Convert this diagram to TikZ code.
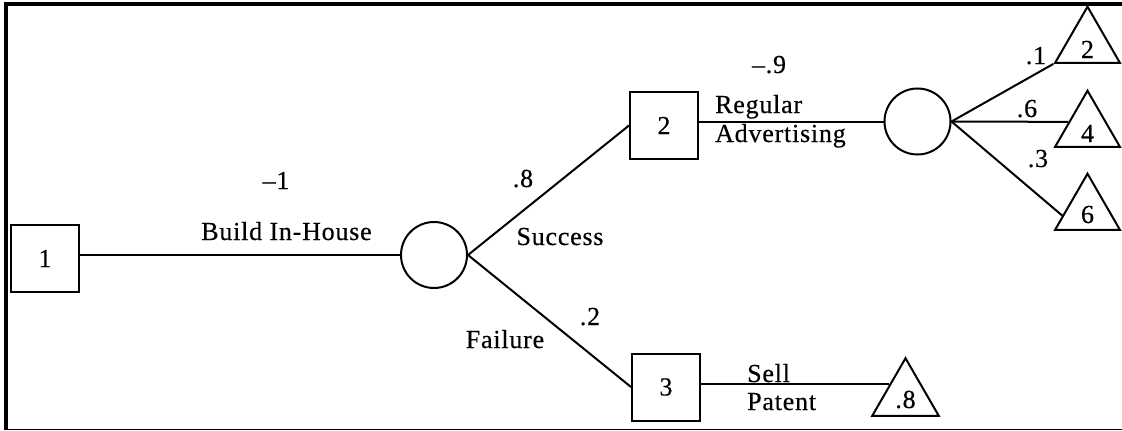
\documentclass[tikz,border=0pt]{standalone}
\usepackage{fontspec}
\setmainfont{Liberation Serif}[LetterSpace=3, FakeBold=0.4]
\usetikzlibrary{shapes.geometric,calc}
\begin{document}
\begin{tikzpicture}[x=1pt,y=-1pt,
  every node/.style={font=\fontsize{26}{29}\selectfont},
  decision/.style={draw, line width=2pt, minimum width=68pt, minimum height=67pt, inner sep=0pt},
  chance/.style={circle, draw, line width=2pt, minimum size=66pt, inner sep=0pt},
  payoff/.style={regular polygon, regular polygon sides=3, draw, line width=2pt,
                 minimum size=75pt, inner sep=0pt},
  branch/.style={line width=2pt},
  lbl/.style={inner sep=0pt, anchor=base},
  lblw/.style={inner sep=0pt, anchor=base west}]
\useasboundingbox (0,0) rectangle (1122,431);

% frame
\draw[line width=4pt] (5.7,429.5) -- (5.7,4.3) -- (1122,4.3);
\draw[line width=1.2pt] (5.7,429.5) -- (1122,429.5);

% decision and chance nodes
\node[decision] (b1) at (45,258.5) {1};
\node[chance]   (c1) at (434,255) {};
\node[decision] (b2) at (664,125.5) {2};
\node[chance]   (c2) at (917.5,121.5) {};
\node[decision] (b3) at (666,387) {3};

% end nodes
\node[payoff] (t2) at (1087.5,44.2) {};
\node[payoff] (t4) at (1087.5,128.2) {};
\node[payoff] (t6) at (1087.5,211.2) {};
\node[payoff, minimum size=77pt] (t8) at (905.5,396.7) {};
\node[lbl] (v2) at (1087.5,58) {2};
\node[lbl] (v4) at (1087.5,142) {4};
\node[lbl] (v6) at (1087.5,223) {6};
\node[lbl] (v8) at (905.5,408) {.8};

% branches
\draw[branch] (b1.east |- c1.west) -- (c1.west);
\draw[branch] (c1.east) -- (b2.west);
\draw[branch] (c1.east) -- (b3.west);
\draw[branch] (b2.east |- c2.west) -- (c2.west);
\draw[branch] (c2.east) -- (t2.corner 2);
\draw[branch] (c2.east) -- ($(t4.corner 1)!0.56!(t4.corner 2)$);
\draw[branch] (c2.east) -- ($(t6.corner 1)!0.74!(t6.corner 2)$);
\coordinate (sp) at ($(t8.corner 1)!0.46!(t8.corner 2)$);
\draw[branch] (b3.east |- sp) -- (sp);

% branch labels
\node[lbl] (p1) at (276,189) {–1};
\node[lbl] (n1) at (286.5,240) {Build In-House};
\node[lbl] (p2) at (523,187) {.8};
\node[lbl] (n2) at (560,245) {Success};
\node[lbl] (p3) at (590,325) {.2};
\node[lbl] (n3) at (505,348) {Failure};
\node[lbl] (p4) at (769,73) {–.9};
\node[lblw] (n4) at (715,113) {Regular};
\node[lblw] (n5) at (715,142) {Advertising};
\node[lbl] (p5) at (1036,64) {.1};
\node[lbl] (p6) at (1027,117) {.6};
\node[lbl] (p7) at (1038,167) {.3};
\node[lblw] (n6) at (747,382) {Sell};
\node[lblw] (n7) at (747,410) {Patent};
\end{tikzpicture}
\end{document}
